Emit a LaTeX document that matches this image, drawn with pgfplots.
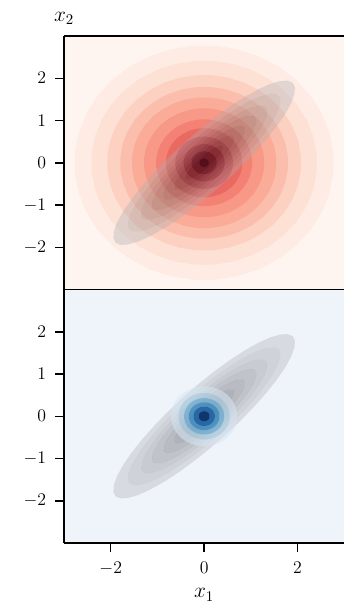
\documentclass[border=0pt]{standalone}
\usepackage{pgfplots}
\pgfplotsset{compat=1.18}
\usepackage{pgfplotstable}

% unit circle, outer loop (k=0), gap, inner loop (k=1)
\pgfplotstableread{
c s k
1 0 0
0.9848 0.1736 0
0.9397 0.3420 0
0.8660 0.5000 0
0.7660 0.6428 0
0.6428 0.7660 0
0.5000 0.8660 0
0.3420 0.9397 0
0.1736 0.9848 0
0 1 0
-0.1736 0.9848 0
-0.3420 0.9397 0
-0.5000 0.8660 0
-0.6428 0.7660 0
-0.7660 0.6428 0
-0.8660 0.5000 0
-0.9397 0.3420 0
-0.9848 0.1736 0
-1 0 0
-0.9848 -0.1736 0
-0.9397 -0.3420 0
-0.8660 -0.5000 0
-0.7660 -0.6428 0
-0.6428 -0.7660 0
-0.5000 -0.8660 0
-0.3420 -0.9397 0
-0.1736 -0.9848 0
0 -1 0
0.1736 -0.9848 0
0.3420 -0.9397 0
0.5000 -0.8660 0
0.6428 -0.7660 0
0.7660 -0.6428 0
0.8660 -0.5000 0
0.9397 -0.3420 0
0.9848 -0.1736 0
1 0 0
nan nan 0
1 0 1
0.9848 0.1736 1
0.9397 0.3420 1
0.8660 0.5000 1
0.7660 0.6428 1
0.6428 0.7660 1
0.5000 0.8660 1
0.3420 0.9397 1
0.1736 0.9848 1
0 1 1
-0.1736 0.9848 1
-0.3420 0.9397 1
-0.5000 0.8660 1
-0.6428 0.7660 1
-0.7660 0.6428 1
-0.8660 0.5000 1
-0.9397 0.3420 1
-0.9848 0.1736 1
-1 0 1
-0.9848 -0.1736 1
-0.9397 -0.3420 1
-0.8660 -0.5000 1
-0.7660 -0.6428 1
-0.6428 -0.7660 1
-0.5000 -0.8660 1
-0.3420 -0.9397 1
-0.1736 -0.9848 1
0 -1 1
0.1736 -0.9848 1
0.3420 -0.9397 1
0.5000 -0.8660 1
0.6428 -0.7660 1
0.7660 -0.6428 1
0.8660 -0.5000 1
0.9397 -0.3420 1
0.9848 -0.1736 1
1 0 1
}\ringtab

% #1 outer semi-major, #2 outer semi-minor, #3 inner semi-major, #4 inner semi-minor, #5 colour, #6 opacity
\newcommand{\band}[6]{%
\addplot[draw=none, fill=#5, fill opacity=#6, even odd rule, unbounded coords=jump]
 table[x expr={0.70711*((#1+(#3-#1)*\thisrow{k})*\thisrow{c}-(#2+(#4-#2)*\thisrow{k})*\thisrow{s})},
       y expr={0.70711*((#1+(#3-#1)*\thisrow{k})*\thisrow{c}+(#2+(#4-#2)*\thisrow{k})*\thisrow{s})}]
 {\ringtab};}

% Reds
\definecolor{rbg}{RGB}{255,245,240}
\definecolor{r1}{RGB}{254,236,228}
\definecolor{r2}{RGB}{253,225,213}
\definecolor{r3}{RGB}{252,209,194}
\definecolor{r4}{RGB}{251,190,172}
\definecolor{r5}{RGB}{250,172,153}
\definecolor{r6}{RGB}{248,152,134}
\definecolor{r7}{RGB}{244,130,116}
\definecolor{r8}{RGB}{234,105,98}
\definecolor{r9}{RGB}{215,78,80}
\definecolor{r10}{RGB}{190,50,58}
\definecolor{r11}{RGB}{155,25,38}
\definecolor{r12}{RGB}{110,5,20}
% greys
\definecolor{g1}{RGB}{172,172,176}
\definecolor{g2}{RGB}{150,150,154}
\definecolor{g3}{RGB}{128,128,132}
\definecolor{g4}{RGB}{105,105,109}
\definecolor{g5}{RGB}{82,82,86}
\definecolor{g6}{RGB}{58,58,62}
\definecolor{g7}{RGB}{35,35,38}
% blues
\definecolor{bbg}{RGB}{239,244,251}
\definecolor{b1}{RGB}{214,230,244}
\definecolor{b2}{RGB}{171,208,230}
\definecolor{b3}{RGB}{107,174,214}
\definecolor{b4}{RGB}{55,135,192}
\definecolor{b5}{RGB}{16,92,164}
\definecolor{b6}{RGB}{8,48,107}

\pgfplotsset{panel/.style={
  scale only axis, width=189pt, height=171pt,
  xmin=-3, xmax=3, ymin=-3, ymax=3,
  axis y line*=left,
  axis on top,
  tick align=outside, major tick length=6pt,
  every tick/.style={black, line width=1pt},
  axis line style={line width=1pt},
  tick label style={font=\large},
  label style={font=\Large},
  yticklabel style={xshift=-2.5pt},
  xticklabel style={yshift=-3pt},
  ytick={-2,-1,0,1,2}, ytick pos=left,
}}

\begin{document}
\begin{tikzpicture}
\begin{axis}[panel, name=top, xtick=\empty,
  ylabel={$x_2$},
  ylabel style={at={(axis description cs:0,1)}, rotate=-90, anchor=base, yshift=10pt},
  axis background/.style={fill=rbg}]
% prior: filled discs, outer to inner
\band{2.78}{2.78}{0}{0}{r1}{1}
\band{2.42}{2.42}{0}{0}{r2}{1}
\band{2.08}{2.08}{0}{0}{r3}{1}
\band{1.80}{1.80}{0}{0}{r4}{1}
\band{1.55}{1.55}{0}{0}{r5}{1}
\band{1.29}{1.29}{0}{0}{r6}{1}
\band{1.03}{1.03}{0}{0}{r7}{1}
\band{0.82}{0.82}{0}{0}{r8}{1}
\band{0.62}{0.62}{0}{0}{r9}{1}
\band{0.44}{0.44}{0}{0}{r10}{1}
\band{0.27}{0.27}{0}{0}{r11}{1}
\band{0.10}{0.10}{0}{0}{r12}{1}
% correlated Gaussian: annuli
\band{2.68}{0.635}{2.25}{0.533}{g1}{0.35}
\band{2.25}{0.533}{1.86}{0.441}{g2}{0.35}
\band{1.86}{0.441}{1.54}{0.365}{g3}{0.35}
\band{1.54}{0.365}{1.20}{0.284}{g4}{0.35}
\band{1.20}{0.284}{0.88}{0.209}{g5}{0.35}
\band{0.88}{0.209}{0.55}{0.130}{g6}{0.35}
\band{0.55}{0.130}{0}{0}{g7}{0.35}
\end{axis}
\begin{axis}[panel, at={(top.south west)}, anchor=north west,
  xtick={-2,0,2}, xtick pos=bottom, xlabel={$x_1$},
  xlabel style={at={(axis description cs:0.5,0)}, anchor=base, yshift=-37pt},
  axis background/.style={fill=bbg}]
\band{2.68}{0.635}{2.25}{0.533}{g1}{0.35}
\band{2.25}{0.533}{1.86}{0.441}{g2}{0.35}
\band{1.86}{0.441}{1.54}{0.365}{g3}{0.35}
\band{1.54}{0.365}{1.20}{0.284}{g4}{0.35}
\band{1.20}{0.284}{0.88}{0.209}{g5}{0.35}
\band{0.88}{0.209}{0.55}{0.130}{g6}{0.35}
\band{0.55}{0.130}{0}{0}{g7}{0.35}
% posterior: annuli
\band{0.71}{0.71}{0.55}{0.55}{b1}{0.55}
\band{0.55}{0.55}{0.43}{0.43}{b2}{0.65}
\band{0.43}{0.43}{0.33}{0.33}{b3}{0.75}
\band{0.33}{0.33}{0.23}{0.23}{b4}{0.8}
\band{0.23}{0.23}{0.12}{0.12}{b5}{0.85}
\band{0.12}{0.12}{0}{0}{b6}{0.95}
\end{axis}
\path ([xshift=-43.2pt,yshift=24.3pt]top.north west) rectangle (top.north west);
\end{tikzpicture}
\end{document}
